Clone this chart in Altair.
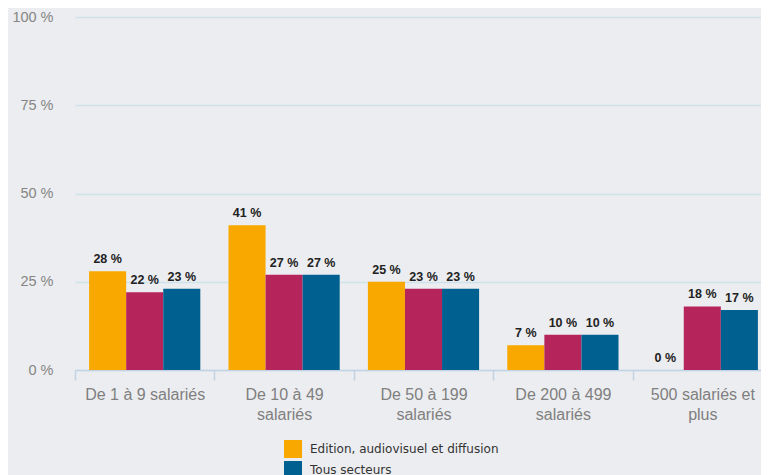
import altair as alt
import pandas as pd

categories = ["De 1 à 9 salariés", "De 10 à 49 salariés", "De 50 à 199 salariés",
              "De 200 à 499 salariés", "500 salariés et plus"]
label_lines = {
    "De 1 à 9 salariés": ["De 1 à 9 salariés"],
    "De 10 à 49 salariés": ["De 10 à 49", "salariés"],
    "De 50 à 199 salariés": ["De 50 à 199", "salariés"],
    "De 200 à 499 salariés": ["De 200 à 499", "salariés"],
    "500 salariés et plus": ["500 salariés et", "plus"],
}
series_bar_order = ["Edition, audiovisuel et diffusion", "Information et communication", "Tous secteurs"]
series_legend_order = ["Edition, audiovisuel et diffusion", "Tous secteurs", "Information et communication"]
series_colors = {
    "Edition, audiovisuel et diffusion": "#f9a800",
    "Information et communication": "#b5245b",
    "Tous secteurs": "#00608f",
}
edition = [28, 41, 25, 7, 0]
information = [22, 27, 23, 10, 18]
tous = [23, 27, 23, 10, 17]
y_ticks = [0, 25, 50, 75, 100]

rows = []
for name, vals in zip(series_bar_order, [edition, information, tous]):
    for c, v in zip(categories, vals):
        rows.append({"cat": c, "serie": name, "value": v})
df = pd.DataFrame(rows)

expr = "datum.label"
for k, v in label_lines.items():
    arr = "[" + ",".join("'" + s + "'" for s in v) + "]"
    expr = f"datum.label == '{k}' ? {arr} : ({expr})"

x = alt.X("cat:N", sort=categories, title=None,
          scale=alt.Scale(domain=categories, paddingInner=0, paddingOuter=0),
          axis=alt.Axis(labelAngle=0, labelExpr=expr, tickBand="extent", tickSize=10,
                        labelPadding=6, labelFontSize=16, labelColor="#7f7f7f",
                        labelFont="Liberation Sans", labelLineHeight=20, labelBaseline="top",
                        domainColor="#c3d3e3", tickColor="#c3d3e3", domainWidth=1.5, tickWidth=1.5,
                        grid=False, labelLimit=200))
xoff = alt.XOffset("serie:N", sort=series_bar_order,
                   scale=alt.Scale(domain=series_bar_order, paddingInner=0, paddingOuter=0.38))
y = alt.Y("value:Q", title=None,
          scale=alt.Scale(domain=[0, 100], nice=False),
          axis=alt.Axis(values=y_ticks, labelExpr="datum.value + ' %'", ticks=False, domain=False,
                        labelPadding=22, labelFontSize=14.5, labelColor="#858585",
                        labelFont="Liberation Sans", gridColor="#cde3ec", gridWidth=1.5))

bars = alt.Chart(df).mark_bar().encode(
    x=x, xOffset=xoff, y=y,
    color=alt.Color("serie:N", title=None,
                    scale=alt.Scale(domain=series_legend_order,
                                    range=[series_colors[s] for s in series_legend_order]),
                    legend=alt.Legend(orient="none", legendX=209, legendY=423, symbolType="square",
                                      symbolSize=324, symbolStrokeWidth=0, labelFontSize=12,
                                      labelFont="DejaVu Sans", labelColor="#333333",
                                      labelOffset=8, rowPadding=3, padding=0, symbolOffset=0,
                                      labelLimit=400)),
)
texts = alt.Chart(df).transform_calculate(lab="datum.value + ' %'").mark_text(
    baseline="bottom", dy=-5, fontSize=12.5, fontWeight="bold", font="Liberation Sans", color="#222222"
).encode(x=x, xOffset=xoff, y=y, text="lab:N")

chart = (bars + texts).properties(
    width=697, height=353,
    autosize=alt.AutoSizeParams(type="none"),
    padding={"left": 67, "top": 9, "right": -11, "bottom": 105},
    background="#ecedf0",
).configure_view(stroke=None)

chart.save("out.html", embed_options={"renderer": "svg", "actions": False})
